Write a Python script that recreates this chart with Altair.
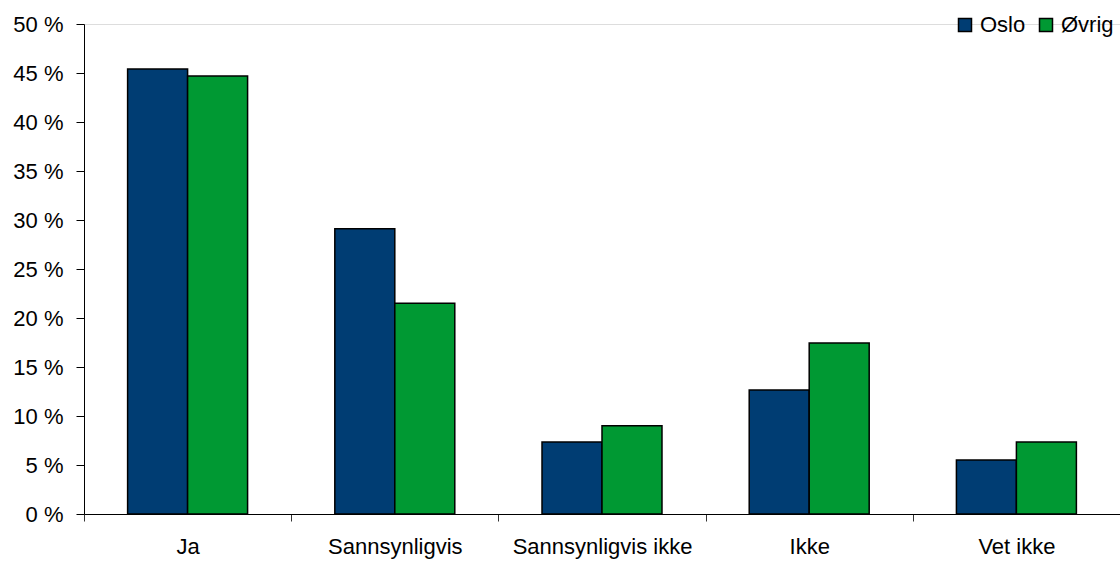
import altair as alt
import pandas as pd

# Survey answers, share of respondents (%) for Oslo and the rest of the country
categories = ["Ja", "Sannsynligvis", "Sannsynligvis ikke", "Ikke", "Vet ikke"]
series = ["Oslo", "Øvrig"]
oslo = [45.4, 29.1, 7.35, 12.65, 5.5]
ovrig = [44.7, 21.5, 9.0, 17.45, 7.35]
y_ticks = [0, 5, 10, 15, 20, 25, 30, 35, 40, 45, 50]
colors = ["#003D73", "#009933"]

rows = []
for cat, a, b in zip(categories, oslo, ovrig):
    rows.append({"svar": cat, "gruppe": series[0], "andel": a})
    rows.append({"svar": cat, "gruppe": series[1], "andel": b})
df = pd.DataFrame(rows)

font = "Liberation Sans"
fsize = 22

chart = (
    alt.Chart(df)
    .mark_bar(stroke="black", strokeWidth=1.5)
    .encode(
        x=alt.X(
            "svar:N",
            sort=categories,
            title=None,
            scale=alt.Scale(paddingInner=0, paddingOuter=0),
            axis=alt.Axis(
                labelAngle=0,
                tickBand="extent",
                tickSize=7,
                tickColor="#333333",
                domainColor="black",
                labelFontSize=fsize,
                labelFont=font,
                labelColor="black",
                labelPadding=15,
                grid=False,
            ),
        ),
        xOffset=alt.XOffset(
            "gruppe:N",
            sort=series,
            scale=alt.Scale(paddingInner=0, paddingOuter=0.727),
        ),
        y=alt.Y(
            "andel:Q",
            title=None,
            scale=alt.Scale(domain=[0, 50], nice=False, zero=True),
            axis=alt.Axis(
                values=y_ticks,
                labelExpr="datum.value + ' %'",
                tickSize=8,
                tickColor="black",
                domainColor="black",
                labelFontSize=fsize,
                labelFont=font,
                labelColor="black",
                labelPadding=13,
                grid=False,
            ),
        ),
        color=alt.Color(
            "gruppe:N",
            sort=series,
            scale=alt.Scale(domain=series, range=colors),
            legend=alt.Legend(
                title=None,
                orient="none",
                direction="horizontal",
                legendX=870,
                legendY=-10,
                padding=0,
                symbolType="square",
                symbolSize=169,
                symbolStrokeColor="black",
                symbolStrokeWidth=1.5,
                labelFontSize=fsize,
                labelFont=font,
                labelColor="black",
                labelOffset=4,
                columnPadding=9,
            ),
        ),
    )
    .properties(
        width=1036,
        height=490,
        autosize=alt.AutoSizeParams(type="none"),
        padding={"left": 84, "top": 24, "right": 0, "bottom": 47},
    )
    .configure_view(stroke=None)
    .configure(background="white")
)

chart.save("out.html", embed_options={"renderer": "svg", "actions": False})
